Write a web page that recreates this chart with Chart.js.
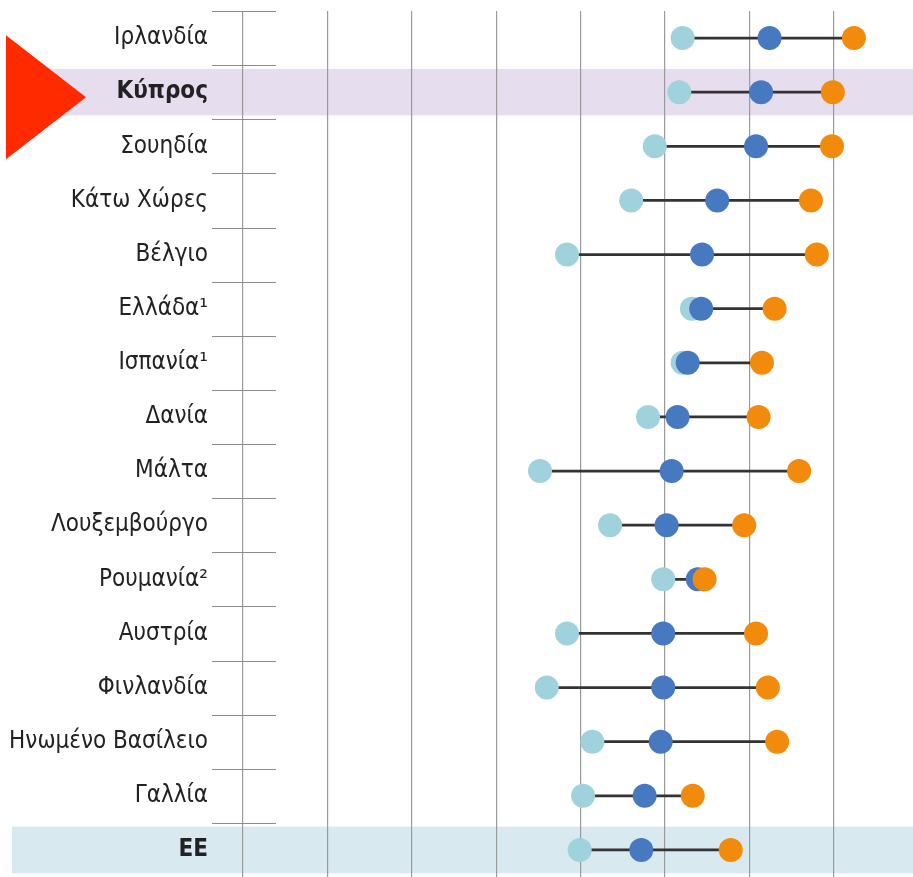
<!DOCTYPE html>
<html>
<head>
<meta charset="utf-8">
<script src="https://cdn.jsdelivr.net/npm/chart.js@4"></script>
<style>
  body { margin: 0; background: #fff; }
</style>
</head>
<body>
<canvas id="myChart" width="913" height="877"></canvas>
<script>
/* dumbbell chart: three readings per country, joined by a line */

let countries = ['Ιρλανδία', 'Κύπρος', 'Σουηδία', 'Κάτω Χώρες', 'Βέλγιο', 'Ελλάδα¹', 'Ισπανία¹', 'Δανία',
  'Μάλτα', 'Λουξεμβούργο', 'Ρουμανία²', 'Αυστρία', 'Φινλανδία', 'Ηνωμένο Βασίλειο', 'Γαλλία', 'ΕΕ'];
let lowValues = [52.1, 51.7, 48.8, 46.0, 38.4, 53.2, 52.1, 48.0, 35.2, 43.5, 49.8, 38.4, 36.0, 41.4, 40.3, 39.9];
let midValues = [62.4, 61.4, 60.8, 56.2, 54.4, 54.3, 52.7, 51.5, 50.8, 50.2, 53.9, 49.8, 49.8, 49.5, 47.6, 47.2];
let highValues = [72.4, 69.9, 69.8, 67.3, 68.0, 63.0, 61.5, 61.1, 65.9, 59.4, 54.7, 60.8, 62.2, 63.3, 53.3, 57.8];
let gridTicks = [0, 10, 20, 30, 40, 50, 60, 70];

let boldRows = ['Κύπρος', 'ΕΕ'];
let bandColors = { 'Κύπρος': '#e6deef', 'ΕΕ': '#d9e9f0' };
let labelFont = "'Liberation Sans Narrow', 'DejaVu Sans Condensed', 'Liberation Sans', sans-serif";

// connector runs from the smallest to the largest value in each row
let spans = countries.map((c, i) => {
  let v = [lowValues[i], midValues[i], highValues[i]];
  return [Math.min(...v), Math.max(...v)];
});

function noPadding(s) {
  s.paddingTop = 0;
  s.paddingBottom = 0;
  s.paddingLeft = 0;
  s.paddingRight = 0;
}

let rowBands = {
  id: 'rowBands',
  beforeDraw(chart) {
    let ctx = chart.ctx, y = chart.scales.y;
    let pitch = y.getPixelForValue(1) - y.getPixelForValue(0);
    ctx.save();
    countries.forEach((c, i) => {
      if (!bandColors[c]) return;
      let yc = y.getPixelForValue(i);
      ctx.fillStyle = bandColors[c];
      ctx.fillRect(12, yc - pitch * 0.43, chart.width - 12, pitch * 0.86);
    });
    ctx.restore();
  },
  afterDraw(chart) {
    let ctx = chart.ctx, y = chart.scales.y, area = chart.chartArea;
    let pitch = y.getPixelForValue(1) - y.getPixelForValue(0);
    ctx.save();
    // short separators across the axis between rows
    ctx.strokeStyle = '#8c8c8c';
    ctx.lineWidth = 1.2;
    for (let k = 0; k <= countries.length; k++) {
      let yy = Math.round(y.getPixelForValue(k) - pitch / 2) + 0.5;
      ctx.beginPath();
      ctx.moveTo(area.left - 31, yy);
      ctx.lineTo(area.left + 33, yy);
      ctx.stroke();
    }
    // red pointer at Κύπρος
    let yc = y.getPixelForValue(countries.indexOf('Κύπρος')) + 5;
    ctx.fillStyle = '#ff2a00';
    ctx.beginPath();
    ctx.moveTo(6, yc - 62);
    ctx.lineTo(86, yc);
    ctx.lineTo(6, yc + 62);
    ctx.closePath();
    ctx.fill();
    ctx.restore();
  }
};

function dots(values, color, order) {
  return {
    type: 'line',
    data: values,
    showLine: false,
    pointRadius: 12,
    pointHoverRadius: 12,
    pointBorderWidth: 0,
    pointBackgroundColor: color,
    borderColor: color,
    order: order
  };
}

let ctx = document.getElementById('myChart').getContext('2d');

let myChart = new Chart(ctx, {
  type: 'bar',
  data: {
    labels: countries,
    datasets: [
      {
        data: spans,
        backgroundColor: '#333333',
        barThickness: 2,
        order: 4
      },
      dots(lowValues, '#9fd2dd', 3),
      dots(midValues, '#4679c0', 2),
      dots(highValues, '#f28a0b', 1)
    ]
  },
  plugins: [rowBands],
  options: {
    responsive: false,
    animation: false,
    indexAxis: 'y',
    layout: { autoPadding: false, padding: { top: 11, left: 0, right: 0, bottom: 0 } },
    plugins: {
      legend: { display: false },
      tooltip: { enabled: false }
    },
    scales: {
      x: {
        min: 0,
        max: 79.4,
        afterBuildTicks: (s) => { s.ticks = gridTicks.map(v => ({ value: v })); },
        afterFit: (s) => { s.height = 0; noPadding(s); },
        ticks: { display: false },
        grid: { color: '#9a9a9a', lineWidth: 1.2, drawTicks: false },
        border: { display: false }
      },
      y: {
        afterFit: (s) => { s.width = 243; noPadding(s); },
        grid: { display: false, drawTicks: false },
        border: { display: false },
        ticks: {
          padding: 35,
          color: '#222222',
          font: (c) => ({
            family: labelFont,
            size: 24,
            weight: boldRows.includes(countries[c.index]) ? 'bold' : 'normal'
          })
        }
      }
    }
  }
});
</script>
</body>
</html>
